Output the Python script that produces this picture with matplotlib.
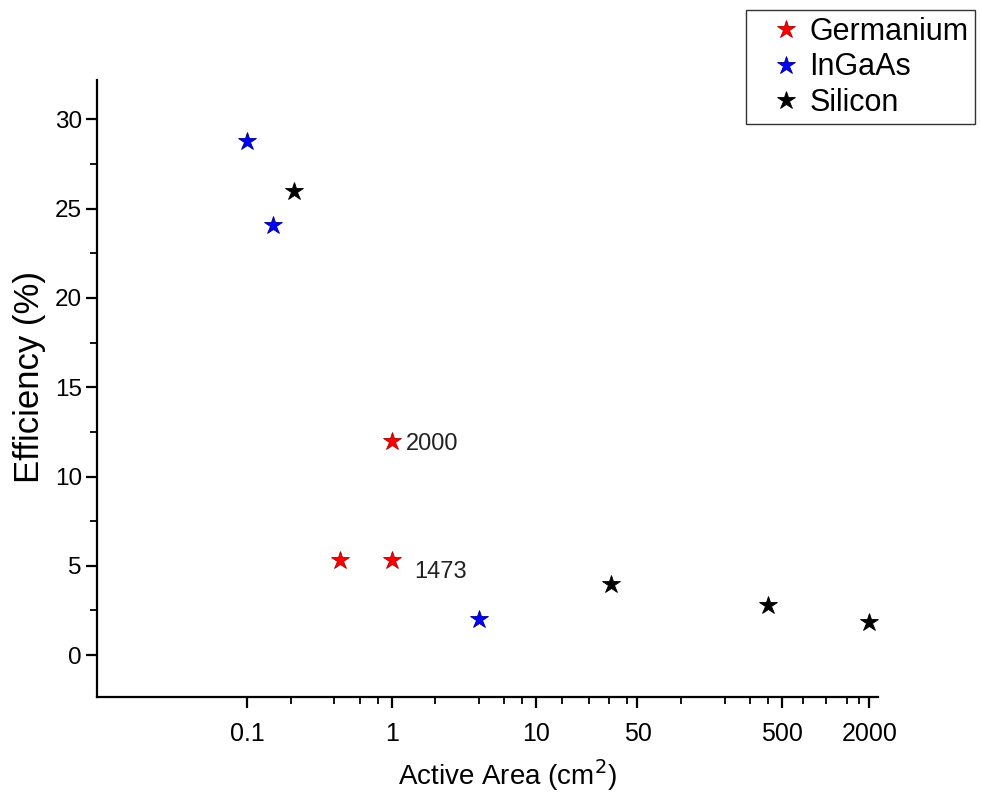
import matplotlib
matplotlib.use("Agg")
import matplotlib.pyplot as plt
from matplotlib.ticker import FixedLocator, NullFormatter

plt.rcParams['font.family'] = ['Liberation Sans', 'DejaVu Sans']

# Data
ge_area = [0.44, 1.0, 1.0]
ge_eff = [5.3, 5.3, 12.0]
ingaas_area = [0.1, 0.15, 4.0]
ingaas_eff = [28.8, 24.1, 2.0]
si_area = [0.21, 33, 400, 2000]
si_eff = [26.0, 4.0, 2.8, 1.85]

annot_text = ["2000", "1473"]
annot_xy = [(1.0, 12.0), (1.0, 5.3)]
annot_offset = [(10.5, -2), (16, -8.5)]

x_major = [0.1, 1, 10, 50, 500, 2000]
x_major_labels = ["0.1", "1", "10", "50", "500", "2000"]
x_minor = [0.2, 0.4, 0.6, 0.8, 2, 4, 6, 8, 15, 23, 32, 42,
           100, 200, 300, 400, 700, 1000, 1400, 1700]
y_major = [0, 5, 10, 15, 20, 25, 30]
y_minor = [2.5, 7.5, 12.5, 17.5, 22.5, 27.5]

fig = plt.figure(figsize=(9.81, 8.01), dpi=100)
ax = fig.add_axes([0.0991, 0.1298, 0.7959, 0.7702])

ms = 13.5
ax.plot(ge_area, ge_eff, linestyle='none', marker='*', markersize=ms,
        color='#ff0000', markeredgecolor='#b00000', markeredgewidth=0.6, label='Germanium')
ax.plot(ingaas_area, ingaas_eff, linestyle='none', marker='*', markersize=ms,
        color='#0000ff', markeredgecolor='#000090', markeredgewidth=0.6, label='InGaAs')
ax.plot(si_area, si_eff, linestyle='none', marker='*', markersize=ms,
        color='#000000', markeredgecolor='#000000', markeredgewidth=0.6, label='Silicon')

for t, xy, off in zip(annot_text, annot_xy, annot_offset):
    ax.annotate(t, xy=xy, xytext=off, textcoords='offset points',
                fontsize=17, color='#222222', va='center', ha='left')

ax.set_xscale('log')
ax.set_xlim(0.0092, 2300)
ax.set_ylim(-2.35, 32.2)

ax.xaxis.set_major_locator(FixedLocator(x_major))
ax.set_xticklabels(x_major_labels)
ax.xaxis.set_minor_locator(FixedLocator(x_minor))
ax.xaxis.set_minor_formatter(NullFormatter())
ax.yaxis.set_major_locator(FixedLocator(y_major))
ax.yaxis.set_minor_locator(FixedLocator(y_minor))

for s in ['top', 'right']:
    ax.spines[s].set_visible(False)
for s in ['left', 'bottom']:
    ax.spines[s].set_linewidth(1.6)

ax.tick_params(axis='both', which='major', direction='out', length=8, width=1.6)
ax.tick_params(axis='both', which='minor', direction='out', length=5, width=1.3)
ax.tick_params(axis='x', which='major', labelsize=18, pad=10)
ax.tick_params(axis='y', which='major', labelsize=17.5, pad=3)

ax.set_xlabel('Active Area (cm$^2$)', fontsize=20, labelpad=8)
ax.set_ylabel('Efficiency (%)', fontsize=25, labelpad=6)
ax.xaxis.label.set_x(0.525)
ax.yaxis.label.set_y(0.519)

leg = ax.legend(loc='upper left', bbox_to_anchor=(746 / 981, 1 - 10 / 801),
                bbox_transform=fig.transFigure,
                fontsize=22, frameon=True, fancybox=False, edgecolor='black',
                borderpad=0.22, labelspacing=0.18, handletextpad=-0.3, handlelength=2.15,
                borderaxespad=0, markerscale=1.0)
leg.get_frame().set_linewidth(1.0)

fig.savefig('out.png', dpi=100)
